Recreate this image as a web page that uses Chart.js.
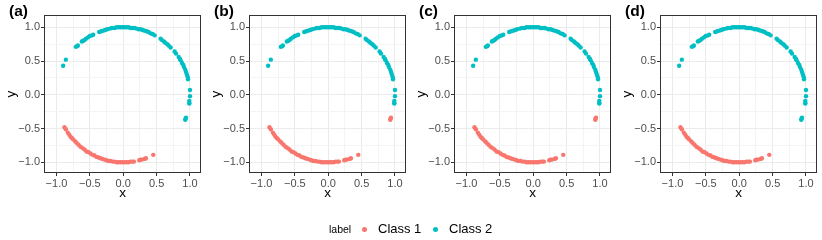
<!DOCTYPE html>
<html>
<head>
<meta charset="utf-8">
<script src="https://cdn.jsdelivr.net/npm/chart.js@4.4.1/dist/chart.umd.min.js"></script>
<style>
  body { margin: 0; background: #fff; width: 822px; height: 240px; position: relative; overflow: hidden;
         font-family: "Liberation Sans", Arial, sans-serif; }
  canvas.panel { position: absolute; top: 0; }
  .lg { position: absolute; white-space: nowrap; color: #000; }
  .dot { position: absolute; width: 5px; height: 5px; border-radius: 50%; }
</style>
</head>
<body>
<canvas class="panel" id="p0" width="206" height="205" style="left:0px"></canvas>
<canvas class="panel" id="p1" width="206" height="205" style="left:205px"></canvas>
<canvas class="panel" id="p2" width="206" height="205" style="left:410px"></canvas>
<canvas class="panel" id="p3" width="206" height="205" style="left:616px"></canvas>

<span class="lg" style="left:329px; top:223px; font-size:10.5px; line-height:12px">label</span>
<span class="dot" style="left:362px; top:227px; background:#F8766D"></span>
<span class="lg" style="left:378px; top:221px; font-size:13px; line-height:16px">Class 1</span>
<span class="dot" style="left:433px; top:227px; background:#00BFC4"></span>
<span class="lg" style="left:449px; top:221px; font-size:13px; line-height:16px">Class 2</span>

<script>
// points, [x, y]
const class1Points = [
  [-0.88, -0.48], [-0.86, -0.51], [-0.83, -0.56], [-0.81, -0.59], [-0.79, -0.62],
  [-0.77, -0.64], [-0.75, -0.66], [-0.72, -0.69], [-0.70, -0.71], [-0.67, -0.74],
  [-0.64, -0.77], [-0.61, -0.79], [-0.58, -0.81], [-0.55, -0.84], [-0.52, -0.85],
  [-0.49, -0.87], [-0.46, -0.89], [-0.43, -0.90], [-0.40, -0.92], [-0.37, -0.93],
  [-0.34, -0.94], [-0.31, -0.95], [-0.28, -0.96], [-0.25, -0.97], [-0.22, -0.98],
  [-0.19, -0.98], [-0.16, -0.99], [-0.13, -0.99], [-0.10, -1.00], [-0.07, -1.00],
  [-0.04, -1.00], [-0.01, -1.00], [0.02, -1.00], [0.05, -1.00], [0.08, -1.00],
  [0.11, -0.99], [0.14, -0.99], [0.16, -0.99], [0.24, -0.97], [0.26, -0.96],
  [0.28, -0.96], [0.32, -0.95], [0.34, -0.94], [0.45, -0.89]
];
const class2Points = [
  [-0.90, 0.43], [-0.86, 0.52], [-0.71, 0.71], [-0.69, 0.72], [-0.68, 0.73],
  [-0.62, 0.79], [-0.60, 0.80], [-0.58, 0.81], [-0.56, 0.83], [-0.53, 0.85],
  [-0.50, 0.87], [-0.47, 0.88], [-0.45, 0.89], [-0.36, 0.93], [-0.33, 0.94],
  [-0.30, 0.95], [-0.27, 0.96], [-0.24, 0.97], [-0.20, 0.98], [-0.17, 0.99],
  [-0.13, 0.99], [-0.10, 1.00], [-0.07, 1.00], [-0.04, 1.00], [-0.01, 1.00],
  [0.02, 1.00], [0.05, 1.00], [0.08, 1.00], [0.11, 0.99], [0.14, 0.99],
  [0.17, 0.99], [0.20, 0.98], [0.23, 0.97], [0.26, 0.97], [0.29, 0.96],
  [0.32, 0.95], [0.35, 0.94], [0.38, 0.93], [0.41, 0.91], [0.44, 0.90],
  [0.47, 0.88], [0.56, 0.83], [0.58, 0.81], [0.61, 0.79], [0.63, 0.77],
  [0.66, 0.75], [0.68, 0.73], [0.71, 0.70], [0.77, 0.64], [0.79, 0.61],
  [0.83, 0.56], [0.85, 0.53], [0.86, 0.51], [0.88, 0.47], [0.90, 0.44],
  [0.91, 0.41], [0.93, 0.37], [0.94, 0.34], [0.95, 0.31], [0.96, 0.28],
  [0.97, 0.25], [0.97, 0.23], [1.00, 0.07], [1.00, -0.02], [0.99, -0.09],
  [0.99, -0.12], [0.99, -0.13]
];
// the small group near (0.93, -0.36) changes class between panels
const switchPoints = [[0.94, -0.34], [0.93, -0.36], [0.93, -0.37]];

const panelTags = ['(a)', '(b)', '(c)', '(d)'];
const switchClass = ['Class 2', 'Class 1', 'Class 1', 'Class 2'];

const gridValues = [-1, -0.75, -0.5, -0.25, 0, 0.25, 0.5, 0.75, 1];
const majorTicks = [-1, -0.5, 0, 0.5, 1];
const tickLabels = ['\u22121.0', '\u22120.5', '0.0', '0.5', '1.0'];

const RED = '#F8766D';
const TEAL = '#00BFC4';

Chart.defaults.font.family = '"Liberation Sans", Arial, sans-serif';

const panelFrame = {
  id: 'panelFrame',
  afterDraw(chart, args, opts) {
    const { ctx, chartArea: a } = chart;
    ctx.save();
    ctx.strokeStyle = '#333333';
    ctx.lineWidth = 1;
    ctx.strokeRect(Math.round(a.left) - 0.5, Math.round(a.top) - 0.5,
      Math.round(a.right - a.left) + 1, Math.round(a.bottom - a.top) + 1);
    ctx.fillStyle = '#000';
    ctx.font = 'bold 15.5px "Liberation Sans", Arial, sans-serif';
    ctx.textBaseline = 'middle';
    ctx.fillText(opts.tag, 9, 12);
    ctx.restore();
  }
};

function isMajor(v) {
  return majorTicks.indexOf(v) >= 0;
}

function axis(title, isX) {
  return {
    type: 'linear',
    min: isX ? -1.172 : -1.144,
    max: isX ? 1.150 : 1.167,
    afterBuildTicks: (scale) => { scale.ticks = gridValues.map(v => ({ value: v })); },
    afterFit: (scale) => {
      if (isX) scale.height = 33; else scale.width = 45;
    },
    border: { display: false },
    grid: {
      color: (c) => isMajor(c.tick.value) ? '#EBEBEB' : '#F4F4F4',
      lineWidth: 1,
      tickLength: 4,
      tickColor: (c) => isMajor(c.tick.value) ? '#333333' : 'rgba(0,0,0,0)'
    },
    ticks: {
      autoSkip: false,
      maxRotation: 0,
      padding: 1,
      color: '#4D4D4D',
      font: { size: 11 },
      callback: (value) => {
        const i = majorTicks.indexOf(value);
        return i >= 0 ? tickLabels[i] : '';
      }
    },
    title: {
      display: true,
      text: title,
      color: '#000',
      font: { size: 13.5 },
      padding: isX ? { top: 0, bottom: 4 } : { top: 3, bottom: 0 }
    }
  };
}

panelTags.forEach(function (tag, p) {
  const red = class1Points.slice();
  const teal = class2Points.slice();
  if (switchClass[p] === 'Class 1') red.push(...switchPoints); else teal.push(...switchPoints);

  new Chart(document.getElementById('p' + p), {
    type: 'scatter',
    data: {
      datasets: [
        { label: 'Class 1', data: red.map(d => ({ x: d[0], y: d[1] })), backgroundColor: RED },
        { label: 'Class 2', data: teal.map(d => ({ x: d[0], y: d[1] })), backgroundColor: TEAL }
      ]
    },
    options: {
      responsive: false,
      animation: false,
      events: [],
      layout: { padding: { top: 16, right: 6, left: 0, bottom: 0 } },
      elements: { point: { radius: 2.2, borderWidth: 0, hoverRadius: 2.2 } },
      scales: { x: axis('x', true), y: axis('y', false) },
      plugins: {
        legend: { display: false },
        tooltip: { enabled: false },
        panelFrame: { tag: tag }
      }
    },
    plugins: [panelFrame]
  });
});
</script>
</body>
</html>
